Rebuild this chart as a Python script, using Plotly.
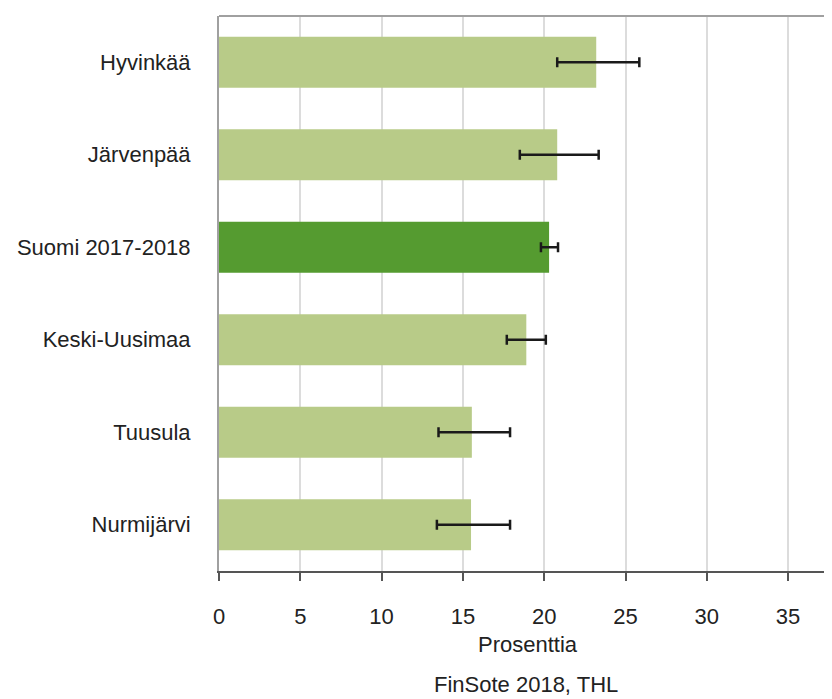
import plotly.graph_objects as go

categories = ["Hyvinkää", "Järvenpää", "Suomi 2017-2018", "Keski-Uusimaa", "Tuusula", "Nurmijärvi"]
values = [23.2, 20.8, 20.3, 18.9, 15.55, 15.5]
ci_low = [20.8, 18.5, 19.8, 17.7, 13.5, 13.4]
ci_high = [25.85, 23.35, 20.85, 20.1, 17.9, 17.9]
colors = ["#b8cb88", "#b8cb88", "#559b30", "#b8cb88", "#b8cb88", "#b8cb88"]
x_ticks = [0, 5, 10, 15, 20, 25, 30, 35]

err_plus = [h - v for h, v in zip(ci_high, values)]
err_minus = [v - l for l, v in zip(ci_low, values)]

font = "Liberation Sans, Arial, sans-serif"
fs = 22

fig = go.Figure(go.Bar(
    x=values, y=categories, orientation="h",
    marker=dict(color=colors, line=dict(width=0)),
    width=0.55,
    error_x=dict(type="data", symmetric=False, array=err_plus, arrayminus=err_minus,
                 color="#1a1a1a", thickness=2.5, width=5),
))

fig.update_layout(
    width=824, height=691,
    margin=dict(l=211, r=0, t=8, b=128),
    paper_bgcolor="white", plot_bgcolor="white",
    showlegend=False,
    font=dict(family=font, size=fs, color="#222222"),
    xaxis=dict(range=[0, 37.7], tickvals=x_ticks, showgrid=True, gridcolor="#dcdcdc",
               gridwidth=1.5, zeroline=False, showline=True, linecolor="#555555", linewidth=2,
               ticks="outside", ticklen=8, tickwidth=2, tickcolor="#555555",
               ticklabelstandoff=17, tickfont=dict(size=fs)),
    yaxis=dict(categoryorder="array", categoryarray=categories, autorange="reversed",
               showline=True, linecolor="#a0a0a0", linewidth=2, showgrid=False,
               ticks="", ticklabelstandoff=22, tickfont=dict(size=fs)),
    annotations=[
        dict(text="Prosenttia", xref="paper", yref="paper", x=0.504, y=-0.1333,
             showarrow=False, font=dict(size=fs), xanchor="center", yanchor="middle"),
        dict(text="FinSote 2018, THL", xref="paper", yref="paper", x=0.5016, y=-0.2045,
             showarrow=False, font=dict(size=fs), xanchor="center", yanchor="middle"),
    ],
    shapes=[dict(type="line", xref="paper", yref="paper", x0=0, x1=1, y0=1, y1=1,
                 line=dict(color="#a0a0a0", width=2))],
)

fig.write_html("out.html")
